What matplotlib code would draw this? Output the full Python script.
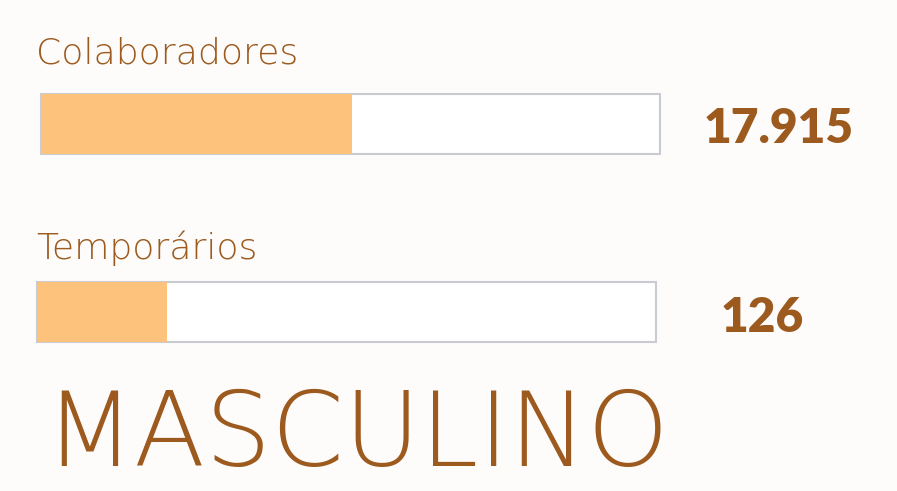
import matplotlib.pyplot as plt
from matplotlib.patches import Rectangle

# dados
categorias = ["Colaboradores", "Temporários"]
valores = ["17.915", "126"]
preenchimento = [0.503, 0.21]   # fração da barra preenchida
titulo = "MASCULINO"

# layout em pixels
bar_left = [41, 37]
bar_width = 619
bar_y = [124, 312]
bar_h = 60
label_x = 36
label_base = [63, 259]
valor_x = [779, 762]
valor_base = [143, 332]

cor_texto = "#9C5A1E"
cor_barra = "#FDC37C"
cor_borda = "#C8CBCF"
fundo = "#FEFCFB"

fig = plt.figure(figsize=(8.97, 4.91), dpi=100)
fig.patch.set_facecolor(fundo)
ax = fig.add_axes([0, 0, 1, 1])
ax.set_xlim(0, 897)
ax.set_ylim(491, 0)
ax.axis("off")

for i, cat in enumerate(categorias):
    # contorno da barra
    ax.add_patch(Rectangle((bar_left[i], bar_y[i] - bar_h / 2), bar_width, bar_h,
                           facecolor="white", edgecolor=cor_borda, lw=1.5))
    ax.barh(bar_y[i], preenchimento[i] * bar_width, height=bar_h,
            left=bar_left[i], color=cor_barra, zorder=3)
    ax.text(label_x, label_base[i], cat, fontsize=26, family="DejaVu Sans",
            weight="light", color=cor_texto, va="baseline", ha="left")
    ax.text(valor_x[i], valor_base[i], valores[i], fontsize=34.5, family="Lato",
            weight="heavy", color=cor_texto, va="baseline", ha="center")

ax.text(44, 466, titulo, fontsize=75, family="DejaVu Sans", weight="light",
        color=cor_texto, va="baseline", ha="left")

fig.savefig("out.png", dpi=100, facecolor=fundo)
